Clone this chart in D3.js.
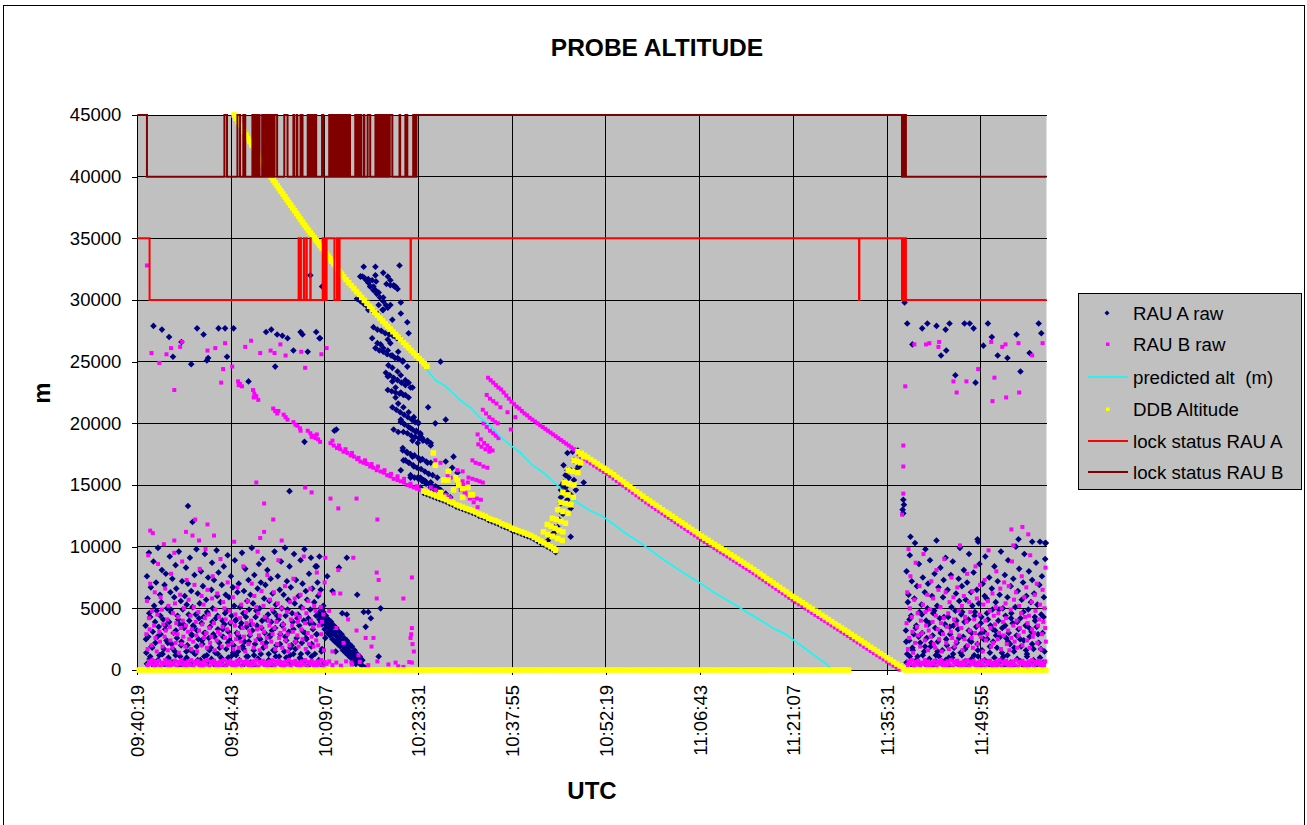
<!DOCTYPE html>
<html>
<head>
<meta charset="utf-8">
<script src="https://cdn.jsdelivr.net/npm/d3@7"></script>
<style>
  html, body { margin: 0; padding: 0; background: #fff; }
  svg { display: block; font-family: Arial, "Liberation Sans", sans-serif; }
</style>
</head>
<body>
<svg id="chart" width="1307" height="825"></svg>
<script>
// Times are minutes after 09:00 UTC, altitudes in metres.
const timeTicks = ["09:40:19","09:54:43","10:09:07","10:23:31","10:37:55","10:52:19","11:06:43","11:21:07","11:35:31","11:49:55"];
const axisEnd = "12:00:00";
const altTicks = [0,5000,10000,15000,20000,25000,30000,35000,40000,45000];

// ---- RAU A raw ----
const rauAHighScatter = [[42.8,27900],[44.1,27600],[45.2,27000],[45.8,25400],[47.1,26600],[48.6,24800],[49.5,27700],[50.5,27200],[51.0,25100],[51.2,25300],[52.8,27700],[53.8,27700],[54.1,25400],[55.1,27700],[60.1,27400],[60.9,27600],[61.8,27200],[62.6,27100],[63.4,26900],[61.5,24600],[64.3,25900],[65.4,27400],[65.7,27200],[66.5,25800],[67.8,27400],[68.3,26900],[70.6,19400],[66.0,18500],[63.7,14500],[57.4,23400],[48.1,13300],[48.8,12000],[66.9,32000],[68.7,31100]];
const rauANoiseEarly = [[41.6,3600],[41.7,1400],[41.8,7600],[41.9,5800],[42.0,2700],[42.1,9500],[42.2,900],[42.3,4300],[42.4,6700],[42.5,1900],[42.7,3100],[42.8,8800],[42.9,5200],[43.0,600],[43.1,2200],[43.2,7100],[43.3,4800],[43.5,9900],[43.6,3500],[43.7,1200],[43.8,6100],[43.9,2900],[44.0,5500],[44.1,8100],[44.3,4100],[44.4,1700],[44.5,6900],[44.6,3300],[44.7,7800],[44.8,2400],[44.9,5000],[45.1,1000],[45.2,3900],[45.3,9200],[45.4,6300],[45.5,4700],[45.6,2100],[45.7,7400],[45.9,3000],[46.0,5900],[46.1,1500],[46.2,8500],[46.3,6600],[46.4,2600],[46.5,4400],[46.7,9600],[46.8,3700],[46.9,1100],[47.0,5600],[47.1,2300],[47.2,7200],[47.3,4900],[47.5,3400],[47.6,6000],[47.7,800],[47.8,8300],[47.9,5300],[48.0,2000],[48.1,7000],[48.3,4000],[48.4,9100],[48.5,1600],[48.6,6400],[48.7,2800],[48.8,5100],[48.9,3600],[49.1,7700],[49.2,1300],[49.3,4500],[49.4,9800],[49.5,3200],[49.6,6200],[49.7,2500],[49.9,5400],[50.0,800],[50.1,8000],[50.2,3800],[50.3,2100],[50.4,6800],[50.5,4300],[50.7,9400],[50.8,3000],[50.9,5700],[51.0,1200],[51.1,4600],[51.2,7500],[51.3,2600],[51.5,3500],[51.6,1800],[51.7,6500],[51.8,8700],[51.9,5000],[52.0,2900],[52.1,7300],[52.3,1400],[52.4,4200],[52.5,9700],[52.6,6000],[52.7,3300],[52.8,7900],[52.9,2200],[53.1,5500],[53.2,1000],[53.3,6900],[53.4,4000],[53.5,2700],[53.6,8400],[53.7,3700],[53.9,6100],[54.0,1700],[54.1,4800],[54.2,9300],[54.3,3100],[54.4,5900],[54.5,2400],[54.7,7600],[54.8,4400],[54.9,1200],[55.0,6700],[55.1,2000],[55.2,5200],[55.3,8900],[55.5,4100],[55.6,3000],[55.7,6300],[55.8,1500],[55.9,7000],[56.0,2600],[56.1,5100],[56.3,3800],[56.4,9500],[56.5,1900],[56.6,4600],[56.7,6400],[56.8,2300],[56.9,8200],[57.1,3500],[57.2,5600],[57.3,1100],[57.4,7300],[57.5,4900],[57.6,2800],[57.7,6100],[57.9,9900],[58.0,3200],[58.1,5400],[58.2,1600],[58.3,7700],[58.4,2100],[58.5,4300],[58.7,3600],[58.8,6600],[58.9,900],[59.0,8600],[59.1,5000],[59.2,2500],[59.3,7100],[59.5,4000],[59.6,9000],[59.7,1800],[59.8,5800],[59.9,3000],[60.0,6900],[60.1,2200],[60.3,8100],[60.4,4500],[60.5,1300],[60.6,5600],[60.7,2700],[60.8,7400],[60.9,3900],[61.1,6200],[61.2,1600],[61.3,4700],[61.4,9600],[61.5,3400],[61.6,5300],[61.7,2000],[61.9,7600],[62.0,4100],[62.1,1100],[62.2,6500],[62.3,2900],[62.4,8800],[62.5,5000],[62.7,3700],[62.8,6100],[62.9,1500],[63.0,9900],[63.1,4400],[63.2,2400],[63.3,7200],[63.5,5700],[63.6,3100],[63.7,8400],[63.8,1200],[63.9,6700],[64.0,2000],[64.1,4600],[64.3,3300],[64.4,9400],[64.5,5400],[64.6,1700],[64.7,7300],[64.8,2600],[64.9,4200],[65.1,6000],[65.2,3600],[65.3,1000],[65.4,8900],[65.5,5100],[65.6,2200],[65.7,7000],[65.9,4000],[66.0,9800],[66.1,3000],[66.2,6400],[66.3,2500],[66.4,5700],[66.5,1400],[66.7,7800],[66.8,3800],[66.9,4900],[67.0,9100],[67.1,2100],[67.2,6600],[67.3,3300],[67.5,5500],[67.6,1300],[67.7,8400],[67.8,4400],[67.9,2900],[68.0,7100],[68.1,6000],[68.3,9200],[68.5,3900],[68.7,1700],[68.9,5200],[69.2,2600],[69.5,7600],[69.9,3700],[70.3,6400],[70.8,1500],[71.3,8300],[71.8,4600],[72.2,2400],[72.5,9100],[75.1,4700],[75.4,3500],[76.2,4200],[77.7,5000],[77.4,1100],[72.5,4500],[67.9,8400],[68.5,6500],[74.1,6100],[75.8,4700]];
const rauANoiseEarlyLow = [[41.65,2500],[42.15,4600],[42.6,1800],[43.05,3900],[43.4,2700],[43.85,4400],[44.2,1300],[44.65,3600],[45.0,2200],[45.45,4900],[45.8,1700],[46.25,3200],[46.6,4100],[47.05,2000],[47.4,3700],[47.85,1500],[48.2,4500],[48.65,2900],[49.0,3500],[49.45,1900],[49.8,4200],[50.25,2400],[50.6,3000],[51.05,4700],[51.4,1600],[51.85,3900],[52.2,2700],[52.65,4400],[53.0,1800],[53.45,3300],[53.8,4600],[54.25,2200],[54.6,3800],[55.05,1400],[55.4,4000],[55.85,2800],[56.2,3500],[56.65,1700],[57.0,4300],[57.45,2300],[57.8,3700],[58.25,1200],[58.6,4800],[59.05,2600],[59.4,3400],[59.85,1900],[60.2,4100],[60.65,2800],[61.0,3200],[61.45,1500],[61.8,4400],[62.25,2100],[62.6,3600],[63.05,2700],[63.4,4900],[63.85,1800],[64.2,3900],[64.65,2300],[65.0,4500],[65.45,1300],[65.8,3100],[66.25,2600],[66.6,4200],[67.05,1900],[67.4,3700],[67.85,2900],[68.2,4600],[68.6,1500]];
const rauAGroundEarly = [[41.8,500],[42.3,1100],[42.9,300],[43.5,800],[44.1,1300],[44.6,400],[45.1,900],[45.7,600],[46.2,1200],[46.9,300],[47.4,700],[47.9,1000],[48.5,500],[49.0,1400],[49.6,800],[50.1,300],[50.6,1100],[51.1,600],[51.7,900],[52.2,400],[52.7,1300],[53.3,700],[53.8,300],[54.3,1000],[54.9,500],[55.5,1200],[56.0,800],[56.6,400],[57.1,1100],[57.7,600],[58.2,300],[58.8,900],[59.3,1300],[59.9,500],[60.5,800],[61.0,400],[61.6,1100],[62.1,700],[62.7,300],[63.2,1000],[63.8,600],[64.3,1300],[64.9,400],[65.4,900],[66.0,700],[66.5,300],[67.1,1100],[67.6,500],[68.2,800],[68.7,400]];
const rauAStreak = [[68.2,4600],[68.4,4300],[68.6,4500],[68.8,4000],[69.0,4200],[69.2,3800],[69.4,3600],[69.6,3900],[69.8,3400],[70.0,3300],[70.2,3500],[70.4,3000],[70.6,2900],[70.8,3100],[71.0,2700],[71.2,2500],[71.4,2700],[71.6,2300],[71.8,2200],[72.0,2400],[72.2,1900],[72.4,1800],[72.6,2000],[72.8,1600],[73.0,1500],[73.2,1300],[73.4,1400],[73.6,1100],[73.8,900],[74.0,1000],[74.2,700],[74.4,600],[74.7,400],[75.0,300],[75.3,200],[75.6,100],[70.0,3200],[72.7,1800],[71.4,2400],
  [68.3,4100],[68.7,3700],[69.1,3300],[69.5,3000],[69.9,2800],[70.3,2500],[70.7,2300],[71.1,2100],[71.5,1900],[71.9,1600],[72.3,1400],[72.7,1200],[73.1,1000],[73.5,700],[73.9,500],
  [68.5,5000],[68.9,4700],[69.3,4400],[69.7,4100],[70.1,3900],[70.5,3600],[70.9,3400],[71.3,3100],[71.7,2900],[72.1,2600],[72.5,2400],[72.9,2100],[73.3,1900],[73.7,1600],[74.1,1300],[74.5,1100],[74.9,800]];
const rauABand = [[75.1,32700],[76.9,32700],[78.1,32200],[80.6,32800],[74.9,31900],[75.5,31600],[75.8,31400],[76.6,31100],[77.4,30600],[78.1,30200],[79.2,31600],[79.7,31200],[80.3,30900],[77.4,29600],[78.0,29200],[79.2,29600],[80.8,28900],[79.5,28400],[81.8,28200],[76.4,26900],[77.2,26500],[77.7,26400],[78.1,26100],[78.8,25900],[79.5,25500],[80.3,25300],[78.8,26800],[79.2,26500],[80.4,25800],[81.1,25100],[81.8,24600],[82.0,27300],[78.9,24700],[79.5,24500],[80.3,24200],[80.8,23900],[81.5,23500],[82.0,23300],[82.6,22900],[78.8,23800],[79.5,23400],[80.0,22900],[80.8,22500],[81.5,22300],[80.0,22100],[80.4,21600],[81.2,21300],[82.0,20900],[82.8,20500],[83.4,20100],[80.8,20300],[81.2,20000],[79.7,19500],[80.4,19300],[82.3,19600],[83.1,19300],[83.8,19100],[82.6,18600],[83.4,18400],[84.1,18800],[84.9,18600],[85.4,18200],[81.1,18000],[81.8,17600],[82.6,17300],[83.8,17000],[84.9,16800],[81.2,17000],[82.0,16800],[82.8,16500],[80.8,16200],[82.3,15600],[83.4,15600],[84.3,15400],[85.4,15200],[86.4,14800],[83.8,14800],[85.4,14800],[85.8,14400],[86.9,25000],[85.0,21300],[86.1,20000],[87.7,20300],[88.9,17300],[87.7,16900],[88.7,16400],[89.5,16000],[68.4,26900],[70.9,19500],[74.6,31900],[75.7,31600],[76.9,32000],[78.8,31900],[80.0,31100],[76.1,31100],[76.9,30800],[74.1,30100],[75.1,29800],[75.8,29200],[78.1,29200],[78.8,29400],[80.8,29800],
  [74.6,31900],[75.2,31800],[75.8,31700],[76.4,31600],[77.0,31500],
  [78.6,31300],[79.2,31200],[79.8,31100],
  [76.1,31100],[76.6,30800],[77.1,30500],[77.6,30200],[78.1,29900],[78.5,29600],[78.8,29400],
  [74.1,30100],[74.6,29900],[75.1,29700],[75.6,29500],[76.1,29300],[76.6,29100],[77.2,28900],
  [76.6,27800],[77.2,27600],[77.8,27500],[78.4,27300],[79.0,27200],[79.6,27100],[80.2,26900],[80.8,26800],
  [76.9,26100],[77.5,25900],[78.1,25800],[78.7,25600],[79.3,25500],[79.9,25300],[80.5,25200],[81.1,25000],
  [78.5,24100],[79.1,23900],[79.7,23700],[80.3,23500],[80.9,23300],[81.5,23100],[82.3,22900],
  [78.8,22700],[79.4,22600],[80.0,22500],[80.6,22400],[81.2,22300],[82.0,22100],
  [79.5,21300],[80.1,21100],[80.7,20900],[81.3,20700],[81.9,20500],[82.5,20300],[83.0,20100],[83.5,20000],
  [80.8,20100],[81.4,19900],[82.0,19700],[82.6,19500],[83.2,19400],[83.8,19200],
  [81.2,19300],[81.8,19200],[82.4,19000],[83.0,18900],[83.6,18800],[84.2,18600],[84.8,18500],[85.4,18400],
  [81.1,17800],[81.7,17700],[82.3,17500],[82.9,17400],[83.5,17200],[84.1,17100],[84.7,16900],[85.4,16800],
  [81.5,17000],[82.1,16800],[82.7,16600],[83.3,16400],[83.9,16300],[84.5,16100],[85.1,15900],[85.7,15800],[86.4,15600],
  [82.3,15800],[82.9,15600],[83.5,15500],[84.1,15300],[84.7,15100],[85.3,15000],[85.9,14800],[86.4,14700],[86.9,14600],
  [85.4,15200],[86.1,14900],[86.9,14600],[87.7,14300],[88.4,14000],[83.8,15600],[84.6,15300],[85.4,15000],[86.3,14800]];
const rauALowTrack = [[84.3,14350],[84.8,14250],[85.3,14150],[85.8,14050],[86.3,13950],[86.8,13850],[87.3,13750],[87.8,13650],[88.3,13500],[88.8,13400],[89.3,13250],[89.8,13150],[90.3,13050],[90.8,12950],[91.3,12850],[91.8,12750],[92.3,12650],[92.8,12500],[93.3,12400],[93.8,12300],[94.3,12150],[94.8,12050],[95.3,11950],[95.8,11850],[96.3,11700],[96.8,11600],[97.3,11500],[97.8,11350],[98.3,11250],[98.8,11150],[99.3,11050],[99.8,10950],[100.3,10850],[100.8,10750],[101.3,10600],[101.8,10450],[102.3,10300],[102.8,10150],[103.3,10000],[103.8,9850],[104.3,9700],[104.6,9550]];
const rauARamp = [[106.4,17600],[107.2,17700],[108.0,17800],[107.4,17000],[108.1,16500],[108.9,15200],[106.4,16200],[105.8,15200],[106.4,14400],[105.4,13500],[105.8,12700],[104.9,11600],[106.9,10800],[104.3,11100],[103.4,10500],[105.8,16600],[106.9,16200],[108.2,16500],[106.1,15800],[107.4,15400],[105.6,15000],[106.4,13800],[105.6,12700],[106.9,13100],[105.1,12200],[104.3,11600],[103.8,10900],[105.4,14600],[106.1,14800],[106.6,15600],[107.7,16200],[105.4,14000],[106.9,14200],[105.9,13500],[107.7,14600]];
const rauAHighLate = [[158.2,29800],[158.6,28100],[160.9,27700],[161.7,28100],[163.1,27900],[164.5,27600],[165.1,28100],[167.4,28100],[168.2,28100],[168.8,27700],[171.0,28100],[171.6,27000],[170.3,26300],[163.8,25500],[164.6,25900],[172.5,25500],[174.0,25300],[175.4,27200],[177.4,25700],[178.8,28100],[179.2,27300],[166.0,23900],[169.1,23300],[176.0,24200],[159.4,26400],[158.0,13800],[158.1,13400],[157.9,13000],[158.0,12700],[175.7,10600],[169.4,10600],[159.1,10800],[177.8,10400],[179.8,10300]];
const rauANoiseLate = [[158.4,3200],[158.5,8000],[158.6,1300],[158.7,5500],[158.8,6100],[158.9,2400],[159.0,9300],[159.2,4400],[159.3,7200],[159.4,1800],[159.6,2900],[159.7,5800],[159.8,10300],[160.0,3600],[160.1,6800],[160.2,1100],[160.4,8600],[160.5,4700],[160.6,2200],[160.8,5300],[160.9,3000],[161.0,7500],[161.2,1500],[161.3,6300],[161.4,9800],[161.5,4000],[161.6,2600],[161.7,5000],[161.8,7000],[162.0,3800],[162.1,8900],[162.2,1900],[162.4,6000],[162.5,2800],[162.6,4600],[162.8,7800],[162.9,3400],[163.0,1200],[163.1,10500],[163.2,5200],[163.3,2300],[163.4,6700],[163.6,4200],[163.7,8300],[163.8,3100],[164.0,1600],[164.1,5900],[164.2,7300],[164.4,3700],[164.5,9100],[164.6,2500],[164.8,6500],[164.9,4300],[165.0,1000],[165.2,2900],[165.3,7700],[165.4,5100],[165.6,8800],[165.7,3600],[165.8,1800],[166.0,4800],[166.1,6200],[166.2,2200],[166.4,3300],[166.5,7400],[166.6,5600],[166.7,9900],[166.8,1400],[166.9,4500],[167.0,6800],[167.2,2700],[167.3,8100],[167.4,3900],[167.6,5700],[167.7,1900],[167.8,7100],[168.0,4100],[168.1,9400],[168.2,2400],[168.4,6300],[168.5,3000],[168.6,5200],[168.8,7900],[168.9,1200],[169.0,4700],[169.2,3500],[169.3,6500],[169.4,2100],[169.5,10400],[169.6,5400],[169.7,8600],[169.8,2900],[170.0,4300],[170.1,1600],[170.2,7000],[170.4,3100],[170.5,6000],[170.6,9200],[170.8,5800],[170.9,2500],[171.0,4100],[171.2,7500],[171.3,1400],[171.4,3600],[171.6,6600],[171.7,4900],[171.8,2300],[172.0,8400],[172.1,3200],[172.2,5500],[172.4,1800],[172.5,7200],[172.6,4000],[172.8,6100],[172.9,2700],[173.0,9600],[173.2,3400],[173.3,5000],[173.4,1100],[173.6,7700],[173.7,4400],[173.8,2600],[174.0,5900],[174.1,8900],[174.2,3000],[174.4,2100],[174.5,6800],[174.6,4600],[174.8,3800],[174.9,7400],[175.0,1500],[175.2,5100],[175.3,10000],[175.4,2800],[175.6,6400],[175.7,3300],[175.8,8200],[176.0,4200],[176.1,1900],[176.2,5700],[176.4,7100],[176.5,2400],[176.6,9400],[176.8,3600],[176.9,6000],[177.0,1300],[177.2,4900],[177.3,8000],[177.4,2700],[177.6,5500],[177.7,3100],[177.8,7300],[178.0,1700],[178.1,6200],[178.2,4300],[178.4,8700],[178.5,3500],[178.6,5300],[178.8,2200],[178.9,6900],[179.0,10400],[179.2,4500],[179.3,7600],[179.4,3000],[179.6,5900],[179.7,1500],[179.8,9000],[179.9,10300],
  [158.45,2300],[158.95,4100],[159.45,1600],[159.9,3400],[160.35,2700],[160.85,4500],[161.35,1900],[161.85,3700],[162.3,2200],[162.75,4800],[163.25,1500],[163.75,3000],[164.25,4300],[164.7,2000],[165.15,3500],[165.65,1300],[166.15,4000],[166.55,2600],[167.05,4700],[167.5,1700],[168.05,3200],[168.45,2300],[168.95,4400],[169.45,1600],[169.9,3800],[170.35,2500],[170.85,4600],[171.3,1900],[171.75,3300],[172.25,2800],[172.7,4900],[173.15,1400],[173.65,3600],[174.1,2300],[174.55,4200],[175.05,1800],[175.5,3900],[175.95,2500],[176.45,4700],[176.85,1600],[177.35,3400],[177.8,2100],[178.25,4000],[178.7,2900],[179.15,1700],[179.55,4300]];
const rauAGroundLate = [[158.5,600],[159.0,1100],[159.5,300],[160.0,800],[160.5,500],[161.0,1200],[161.5,400],[162.0,900],[162.5,300],[163.0,700],[163.5,1100],[164.0,500],[164.5,800],[165.0,300],[165.5,1000],[166.0,600],[166.5,400],[167.0,1200],[167.5,700],[168.0,300],[168.5,900],[169.0,500],[169.5,1100],[170.0,400],[170.5,800],[171.0,600],[171.5,300],[172.0,1000],[172.5,500],[173.0,800],[173.5,300],[174.0,1200],[174.5,600],[175.0,400],[175.5,900],[176.0,700],[176.5,300],[177.0,1100],[177.5,500],[178.0,800],[178.5,400],[179.0,1000],[179.5,600]];

// ---- RAU B raw ----
const rauBHighScatter = [[41.8,32800],[42.5,25700],[43.7,24900],[44.8,25600],[45.5,26100],[46.9,26200],[47.2,26600],[51.1,25900],[52.3,26100],[53.8,26500],[53.2,23300],[54.9,24600],[53.5,24400],[46.0,22700],[56.9,26200],[57.8,26700],[59.2,25700],[60.8,25900],[61.4,25700],[62.3,26400],[63.1,25500],[65.5,25800],[66.1,24500],[68.6,25600],[69.4,26100],[58.6,15200],[59.8,13500],[61.2,12200],[66.1,14800],[67.1,14400],[70.0,13900],[71.2,13100],[74.0,13900],[77.2,12200],[42.3,11300],[49.2,12200],[47.8,11200],[46.0,10500],[49.8,10500],[51.1,11800],[52.1,10900],[59.8,11200],[62.5,10500],[59.2,10700]];
const rauBTrackEarly = [[55.8,23400],[56.1,23200],[56.4,23000],[55.9,23100],[58.1,22700],[58.3,22400],[58.6,22200],[58.9,21900],[58.2,22100],[61.2,21200],[61.5,21000],[61.8,20800],[62.0,21000],[62.8,20700],[63.1,20500],[63.4,20300],[64.3,20100],[64.6,19900],[64.9,19800],[65.3,19600],[65.4,19400],[66.5,19400],[66.9,19200],[67.3,19000],[67.7,18800],[68.1,18700],[68.4,18500],[67.1,18900],[67.9,19100],
  [70.0,18400],[70.5,18200],[71.0,18000],[71.5,17900],[72.0,17700],[72.6,17600],[73.1,17400],[73.6,17300],[74.1,17100],[74.6,16900],[75.1,16800],[75.6,16700],[76.1,16500],[76.6,16400],[77.1,16200],[77.7,16100],[78.2,16000],[78.7,15800],[79.2,15700],[79.7,15500],[80.3,15400],[80.8,15300],[81.3,15200],[81.8,15000],[82.3,14900],[82.8,14800],[83.3,14700],[83.8,14600],[84.3,14500],[84.9,14400],[85.4,14300],[85.9,14200],
  [70.3,18600],[71.3,18200],[72.3,17900],[73.3,17600],[74.3,17200],[75.3,17000],[76.3,16700],[77.3,16500],[78.3,16200],[79.3,15900],[80.3,15700],[81.3,15500],[82.3,15100],[83.3,14900]];
const rauBStriations = [[94.0,22300],[94.5,22000],[95.0,21800],[95.5,21600],[96.1,21300],[93.4,21100],[93.9,20800],[94.4,20500],[94.9,20300],[95.3,20100],[95.7,20000],[93.5,20000],[94.0,19700],[94.5,19400],[95.0,19200],[95.4,19000],[95.8,18800],[92.6,19100],[93.1,18700],[93.6,18400],[94.1,18200],[94.5,18000],[94.9,17800],[92.7,18300],[93.2,18100],[93.8,17900],[94.4,17700],[91.8,17000],[92.3,16800],[92.9,16700],[93.5,16500],[94.1,16400],[91.2,15600],[91.8,15500],[92.4,15400],[92.9,15300],[93.4,15200],[90.0,14600],[90.6,14400],[91.2,14200],[91.9,14000],[92.5,13900],[93.1,13800],[89.5,16200],[90.4,15000],[89.5,15200],[90.1,14800],[90.8,14300],[91.4,13900],[92.0,13600],[92.6,13200],[88.0,15800],[88.8,15600],[89.5,15500],[90.3,15300],[91.1,15200],[85.4,14800],[86.1,14600],[86.9,14400],[87.7,14200],[88.4,14000],[86.1,17000],[86.9,16800],[90.3,16100],[98.4,20500],[97.7,19500],[97.2,20900]];
const rauBDescent = [[94.2,23700],[94.6,23500],[95.0,23300],[95.4,23100],[95.8,22900],[96.2,22750],[96.6,22500],[97.0,22250],[97.4,22000],[97.8,21750],[98.2,21550],[98.6,21350],[99.0,21200],[99.4,21000],[99.8,20800],[100.2,20650],[100.6,20450],[101.0,20300],[101.4,20150],[101.8,20000],[102.2,19850],[102.6,19700],[103.0,19550],[103.4,19400],[103.8,19250],[104.2,19100],[104.6,18950],[105.0,18800],[105.4,18650],[105.8,18500],[106.2,18350],[106.6,18200],[107.0,18050],[107.4,17900],[107.8,17750],[108.1,17500],
  [108.5,17280],[109.0,17100],[109.5,16930],[110.0,16760],[110.5,16580],[111.0,16410],[111.5,16240],[112.0,16060],[112.5,15890],[113.0,15720],[113.5,15530],[114.0,15330],[114.5,15140],[115.0,14950],[115.5,14750],[116.0,14560],[116.5,14370],[117.0,14170],[117.5,13980],[118.0,13790],[118.5,13590],[119.0,13410],[119.5,13230],[120.0,13050],[120.5,12870],[121.0,12690],[121.5,12510],[122.0,12340],[122.5,12160],[123.0,11980],[123.5,11800],[124.0,11630],[124.5,11450],[125.0,11270],[125.5,11090],[126.0,10920],[126.5,10740],[127.0,10560],[127.5,10390],[128.0,10220],[128.5,10050],[129.0,9880],[129.5,9710],[130.0,9540],[130.5,9380],[131.0,9210],[131.5,9040],[132.0,8870],[132.5,8700],[133.0,8530],[133.5,8360],[134.0,8200],[134.5,8030],[135.0,7850],[135.5,7670],[136.0,7490],[136.5,7310],[137.0,7120],[137.5,6940],[138.0,6760],[138.5,6580],[139.0,6400],[139.5,6220],[140.0,6040],[140.5,5850],[141.0,5670],[141.5,5500],[142.0,5330],[142.5,5160],[143.0,4990],[143.5,4810],[144.0,4640],[144.5,4470],[145.0,4300],[145.5,4130],[146.0,3960],[146.5,3790],[147.0,3620],[147.5,3450],[148.0,3280],[148.5,3110],[149.0,2940],[149.5,2770],[150.0,2590],[150.5,2410],[151.0,2240],[151.5,2070],[152.0,1890],[152.5,1720],[153.0,1540],[153.5,1370],[154.0,1200],[154.5,1030],[155.0,860],[155.5,690],[156.0,520],[156.5,350],[157.0,180],[157.4,30]];
const rauBNoiseEarly = [[41.7,2900],[41.8,5600],[41.9,1700],[42.0,9300],[42.1,4200],[42.2,3300],[42.3,7000],[42.5,2000],[42.6,4800],[42.7,11100],[42.9,3600],[43.0,6300],[43.1,2600],[43.3,1500],[43.4,4500],[43.5,8600],[43.7,3100],[43.8,2300],[43.9,5900],[44.1,4900],[44.2,1900],[44.3,3700],[44.4,10200],[44.5,2700],[44.6,6600],[44.7,3200],[44.9,4100],[45.0,1600],[45.1,5200],[45.3,3500],[45.4,2400],[45.5,7800],[45.7,1800],[45.8,4600],[45.9,3000],[46.0,9500],[46.1,5400],[46.2,2200],[46.3,3800],[46.5,2900],[46.6,4300],[46.7,1400],[46.9,6100],[47.0,3400],[47.1,2100],[47.2,8800],[47.3,4000],[47.4,2700],[47.5,5000],[47.7,1900],[47.8,3600],[47.9,7300],[48.1,3100],[48.2,5700],[48.3,2500],[48.5,4400],[48.6,1700],[48.7,3300],[48.8,10900],[48.9,2300],[49.0,5100],[49.1,6900],[49.3,3900],[49.4,2800],[49.5,1500],[49.7,4700],[49.8,3200],[49.9,8200],[50.1,2000],[50.2,6000],[50.3,3700],[50.5,5300],[50.6,2600],[50.7,4200],[50.8,9800],[50.9,3000],[51.0,1800],[51.1,6500],[51.3,4500],[51.4,3400],[51.5,2200],[51.7,2700],[51.8,5800],[51.9,7600],[52.1,3800],[52.2,1600],[52.3,4900],[52.5,2400],[52.6,6200],[52.7,3100],[52.9,4300],[53.0,2900],[53.1,9000],[53.3,1900],[53.4,3500],[53.5,5500],[53.7,5000],[53.8,2600],[53.9,4100],[54.1,3300],[54.2,7100],[54.3,2000],[54.5,4800],[54.6,2800],[54.7,3900],[54.9,2200],[55.0,5900],[55.1,1700],[55.2,10400],[55.3,3600],[55.4,4500],[55.5,2500],[55.7,6700],[55.8,3000],[55.9,1800],[56.1,4200],[56.2,2300],[56.3,5300],[56.5,3400],[56.6,8400],[56.7,2700],[56.9,1500],[57.0,4700],[57.1,3800],[57.3,5600],[57.4,2100],[57.5,3200],[57.7,2900],[57.8,4000],[57.9,7000],[58.1,3700],[58.2,1800],[58.3,6000],[58.5,2400],[58.6,5100],[58.7,3300],[58.8,9600],[58.9,4600],[59.0,2800],[59.1,1600],[59.3,3500],[59.4,6400],[59.5,2200],[59.7,5200],[59.8,3100],[59.9,4300],[60.1,1900],[60.2,2600],[60.3,7700],[60.5,4000],[60.6,3600],[60.7,5700],[60.9,2300],[61.0,4900],[61.1,2900],[61.3,6300],[61.4,3400],[61.5,1700],[61.7,3900],[61.8,2100],[61.9,5400],[62.0,8900],[62.1,2600],[62.2,4400],[62.3,3000],[62.5,5000],[62.6,1800],[62.7,3700],[62.9,3300],[63.0,6800],[63.1,2400],[63.3,4700],[63.4,2900],[63.5,1500],[63.7,2000],[63.8,5500],[63.9,4100],[64.1,3600],[64.2,3100],[64.3,7400],[64.5,5800],[64.6,2300],[64.7,4500],[64.9,2800],[65.0,3900],[65.1,1900],[65.3,4300],[65.4,6100],[65.5,3300],[65.7,2500],[65.8,5000],[65.9,9200],[66.1,3800],[66.2,1700],[66.3,4600],[66.5,3000],[66.6,5600],[66.7,2100],[66.9,6600],[67.0,4000],[67.1,2700],[67.3,3500],[67.4,1900],[67.5,5200],[67.7,4800],[67.8,2400],[67.9,7900],[68.1,2000],[68.2,3600],[68.3,6200],[68.5,5100],[68.6,2900],[68.7,3900],[68.9,4500],[69.0,1600],[69.1,7100],
  [69.2,9100],[71.2,8100],[73.5,9100],[71.5,6200],[70.5,6200],[77.1,7900],[77.4,7300],[77.1,5800],[81.2,5800],[82.5,7500],[82.5,3400],[82.8,1500],[82.3,2600],[74.0,3200],[75.4,2600],[76.6,2600],[76.3,1900],[74.3,1200],[73.2,600],[82.5,600],[81.2,250],[80.0,600],[82.6,2100],[82.4,2900],[69.8,4800],[70.9,3400],[72.0,2200],[72.7,4100],[70.3,1500]];
const rauBGroundEarly = [[41.9,400],[42.1,700],[42.4,500],[42.6,800],[42.9,350],[43.1,650],[43.4,450],[43.6,750],[43.9,300],[44.1,600],[44.4,500],[44.6,800],[44.9,400],[45.1,700],[45.4,350],[45.6,600],[45.9,450],[46.1,750],[46.4,300],[46.6,650],[46.9,500],[47.1,800],[47.4,400],[47.6,600],[47.9,350],[48.1,700],[48.4,450],[48.6,800],[48.9,300],[49.1,650],[49.4,500],[49.6,750],[49.9,400],[50.1,600],[50.4,350],[50.6,700],[50.9,450],[51.1,800],[51.4,300],[51.6,650],[51.9,500],[52.1,750],[52.4,400],[52.6,600],[52.9,350],[53.1,700],[53.4,450],[53.6,800],[53.9,300],[54.1,650],[54.4,500],[54.6,750],[54.9,400],[55.1,600],[55.4,350],[55.6,700],[55.9,450],[56.1,800],[56.4,300],[56.6,650],[56.9,500],[57.1,750],[57.4,400],[57.6,600],[57.9,350],[58.1,700],[58.4,450],[58.6,800],[58.9,300],[59.1,650],[59.4,500],[59.6,750],[59.9,400],[60.1,600],[60.4,350],[60.6,700],[60.9,450],[61.1,800],[61.4,300],[61.6,650],[61.9,500],[62.1,750],[62.4,400],[62.6,600],[62.9,350],[63.1,700],[63.4,450],[63.6,800],[63.9,300],[64.1,650],[64.4,500],[64.6,750],[64.9,400],[65.1,600],[65.4,350],[65.6,700],[65.9,450],[66.1,800],[66.4,300],[66.6,650],[66.9,500],[67.1,750],[67.4,400],[67.6,600],[67.9,350],[68.1,700],[68.4,450],[68.6,800],[68.9,300],[69.1,650],[69.4,500],[69.8,700],[70.3,400],[70.9,600],[71.6,350],[72.4,700],[73.3,450],[74.5,650],[75.8,400],[77.2,700],[78.9,450],[80.4,300],[82.1,650]];
const rauBHighLate = [[159.7,26400],[161.5,26400],[162.0,26500],[163.5,26600],[163.4,26200],[171.5,26600],[173.2,26200],[173.7,26400],[175.7,26500],[179.4,26500],[177.8,25500],[169.5,24400],[165.7,23400],[167.7,23400],[172.0,23700],[166.2,22500],[171.7,21800],[173.8,22100],[175.8,22500],[158.3,23000],[158.0,18200],[158.0,16500],[158.0,14300],[157.8,12600],[174.6,11400],[176.3,11600],[177.2,11000],[174.9,10100]];
const rauBNoiseLate = [[158.5,3800],[158.6,6300],[158.7,1700],[158.8,9800],[158.9,2600],[159.0,5000],[159.1,7600],[159.3,4300],[159.4,3100],[159.5,1400],[159.7,5700],[159.8,2200],[159.9,8700],[160.1,3500],[160.2,4600],[160.3,2800],[160.5,6800],[160.6,1900],[160.7,4000],[160.9,3000],[161.0,5300],[161.1,9400],[161.3,2400],[161.4,4700],[161.5,3600],[161.7,6100],[161.8,1600],[161.9,3200],[162.1,4900],[162.2,2700],[162.3,7200],[162.5,3900],[162.6,5800],[162.7,2100],[162.9,1800],[163.0,4400],[163.1,8100],[163.3,3300],[163.4,6500],[163.5,2500],[163.7,5100],[163.8,3800],[163.9,1500],[164.1,2900],[164.2,4200],[164.3,9000],[164.5,6300],[164.6,2200],[164.7,3500],[164.9,4600],[165.0,1700],[165.1,5500],[165.3,3100],[165.4,7500],[165.5,2600],[165.7,5900],[165.8,4100],[165.9,1900],[166.1,2300],[166.2,3700],[166.3,6700],[166.5,4800],[166.6,2800],[166.7,10100],[166.9,3400],[167.0,5200],[167.1,1600],[167.3,6000],[167.4,2500],[167.5,4300],[167.7,3900],[167.8,7800],[167.9,2000],[168.1,5500],[168.2,3200],[168.3,4700],[168.5,2600],[168.6,6400],[168.7,1800],[168.9,4100],[169.0,3000],[169.1,8400],[169.3,5800],[169.4,2100],[169.5,3600],[169.7,4500],[169.8,6900],[169.9,2700],[170.1,3300],[170.2,1500],[170.3,5300],[170.5,7300],[170.6,4000],[170.7,2400],[170.9,2900],[171.0,5600],[171.1,9700],[171.3,4800],[171.4,3400],[171.5,1900],[171.7,6200],[171.8,2200],[171.9,4400],[172.1,3700],[172.2,5100],[172.3,8000],[172.5,2500],[172.6,4600],[172.7,3000],[172.9,6600],[173.0,1700],[173.1,5000],[173.3,3900],[173.4,2800],[173.5,7100],[173.7,5400],[173.8,4200],[173.9,2100],[174.1,3200],[174.2,6800],[174.3,1600],[174.5,4900],[174.6,2600],[174.7,8800],[174.9,3600],[175.0,5700],[175.1,2300],[175.3,6300],[175.4,4000],[175.5,1800],[175.7,2800],[175.8,5200],[175.9,3400],[176.1,4600],[176.2,7600],[176.3,2000],[176.5,3100],[176.6,5900],[176.7,4300],[176.9,6700],[177.0,2400],[177.1,3800],[177.3,4400],[177.4,1800],[177.5,9300],[177.7,5500],[177.8,3300],[177.9,2700],[178.1,3000],[178.2,6100],[178.3,4800],[178.5,7000],[178.6,2200],[178.7,3600],[178.9,4100],[179.0,5300],[179.1,1700],[179.3,2900],[179.4,6500],[179.5,3900],[179.7,5000],[179.8,3400],[179.85,8300],[179.9,2300]];
const rauBGroundLate = [[158.6,400],[158.8,700],[159.1,500],[159.3,800],[159.6,350],[159.8,650],[160.1,450],[160.3,750],[160.6,300],[160.8,600],[161.1,500],[161.3,800],[161.6,400],[161.8,700],[162.1,350],[162.3,600],[162.6,450],[162.8,750],[163.1,300],[163.3,650],[163.6,500],[163.8,800],[164.1,400],[164.3,600],[164.6,350],[164.8,700],[165.1,450],[165.3,800],[165.6,300],[165.8,650],[166.1,500],[166.3,750],[166.6,400],[166.8,600],[167.1,350],[167.3,700],[167.6,450],[167.8,800],[168.1,300],[168.3,650],[168.6,500],[168.8,750],[169.1,400],[169.3,600],[169.6,350],[169.8,700],[170.1,450],[170.3,800],[170.6,300],[170.8,650],[171.1,500],[171.3,750],[171.6,400],[171.8,600],[172.1,350],[172.3,700],[172.6,450],[172.8,800],[173.1,300],[173.3,650],[173.6,500],[173.8,750],[174.1,400],[174.3,600],[174.6,350],[174.8,700],[175.1,450],[175.3,800],[175.6,300],[175.8,650],[176.1,500],[176.3,750],[176.6,400],[176.8,600],[177.1,350],[177.3,700],[177.6,450],[177.8,800],[178.1,300],[178.3,650],[178.6,500],[178.8,750],[179.1,400],[179.3,600],[179.6,350],[179.8,700]];

// ---- predicted altitude (m) ----
const predictedAlt = [[84.6,24500],[86.1,23500],[87.7,23000],[88.9,22400],[89.7,22000],[90.6,21600],[91.5,21300],[93.1,20400],[94.6,19800],[96.1,18900],[97.7,18200],[99.2,17600],[100.8,16700],[102.7,16000],[104.6,15100],[106.3,14200],[107.9,13600],[109.9,12900],[111.7,12500],[113.5,11800],[115.3,11100],[117.3,10400],[119.2,9700],[121.3,8900],[123.3,8200],[125.1,7600],[126.9,7000],[128.9,6300],[130.8,5700],[132.7,5100],[134.6,4500],[136.5,3900],[138.3,3300],[139.9,2900],[141.2,2400],[142.8,1800],[144.3,1200],[145.9,600],[147.2,0]];

// ---- DDB Altitude ----
const ddbUpper = [[55.2,45000],[55.5,44730],[55.8,44460],[56.1,44190],[56.4,43920],[56.7,43650],[57.0,43380],[57.3,43110],[57.6,42840],[57.9,42570],[58.2,42300],[58.5,42030],[58.8,41760],[59.1,41490],[59.4,41220],[59.7,40950],[60.0,40680],[60.3,40420],[60.6,40190],[60.9,39960],[61.2,39730],[61.5,39510],[61.8,39280],[62.1,39050],[62.4,38820],[62.7,38600],[63.0,38370],[63.3,38140],[63.6,37910],[63.9,37690],[64.2,37460],[64.5,37230],[64.8,37000],[65.1,36780],[65.4,36550],[65.7,36320],[66.0,36090],[66.3,35880],[66.6,35670],[66.9,35460],[67.2,35250],[67.5,35040],[67.8,34830],[68.1,34620],[68.4,34410],[68.7,34200],[69.0,33990],[69.3,33780],[69.6,33570],[69.9,33360],[70.2,33150],[70.5,32940],[70.8,32730],[71.1,32520],[71.4,32310],[71.7,32100],[72.0,31890],[72.4,31650],[72.8,31410],[73.2,31170],[73.6,30930],[74.0,30690],[74.4,30450],[74.8,30210],[75.2,29970],[75.6,29730],[76.0,29490],[76.4,29250],[76.8,29010],[77.2,28770],[77.6,28530],[78.0,28290],[78.4,28070],[78.8,27860],[79.2,27640],[79.6,27420],[80.0,27210],[80.4,26990],[80.8,26780],[81.2,26560],[81.6,26340],[82.0,26130],[82.4,25910],[82.8,25700],[83.2,25480],[83.6,25260],[84.0,25050],[84.4,24830],[84.8,24620]];
const ddbLowerTrack = [[84.3,14500],[84.8,14400],[85.3,14300],[85.8,14200],[86.3,14100],[86.8,14000],[87.3,13900],[87.8,13800],[88.3,13650],[88.8,13550],[89.3,13400],[89.8,13300],[90.3,13200],[90.8,13100],[91.3,13000],[91.8,12900],[92.3,12800],[92.8,12650],[93.3,12550],[93.8,12450],[94.3,12300],[94.8,12200],[95.3,12100],[95.8,12000],[96.3,11850],[96.8,11750],[97.3,11650],[97.8,11500],[98.3,11400],[98.8,11300],[99.3,11200],[99.8,11100],[100.3,11000],[100.8,10900],[101.3,10750],[101.8,10600],[102.3,10450],[102.8,10300],[103.3,10150],[103.8,10000],[104.3,9850],[104.6,9700],
  [85.8,17600],[86.1,16600],[88.1,16100],[88.0,15400],[89.2,15600],[89.7,15000],[91.1,14800],[91.8,14200],[90.3,14000],[86.9,14400],[87.4,14000],[89.5,15400],[90.3,14700],[91.5,14200],[87.4,15400],[88.9,14600]];
const ddbRamp = [[102.7,11200],[103.4,11000],[104.1,10850],[104.9,10650],[105.6,10500],[103.3,11800],[103.9,11650],[104.5,11500],[105.1,11350],[105.7,11200],[104.1,12300],[104.7,12200],[105.4,12050],[106.1,11900],[104.9,13000],[105.7,12850],[106.5,12700],[105.4,13600],[106.1,13500],[106.9,13400],[105.7,14400],[106.5,14200],[107.3,14000],[105.9,15200],[106.6,15100],[107.4,15000],[106.5,16200],[107.2,16100],[108.0,16000],[107.4,17000],[107.9,16900],[108.4,16800],[108.0,17700],[108.5,17500],[108.9,17300]];
const ddbDescent = [[108.5,17580],[109.0,17400],[109.5,17230],[110.0,17060],[110.5,16880],[111.0,16710],[111.5,16540],[112.0,16360],[112.5,16190],[113.0,16020],[113.5,15830],[114.0,15630],[114.5,15440],[115.0,15250],[115.5,15050],[116.0,14860],[116.5,14670],[117.0,14470],[117.5,14280],[118.0,14090],[118.5,13890],[119.0,13710],[119.5,13530],[120.0,13350],[120.5,13170],[121.0,12990],[121.5,12810],[122.0,12640],[122.5,12460],[123.0,12280],[123.5,12100],[124.0,11930],[124.5,11750],[125.0,11570],[125.5,11390],[126.0,11220],[126.5,11040],[127.0,10860],[127.5,10690],[128.0,10520],[128.5,10350],[129.0,10180],[129.5,10010],[130.0,9840],[130.5,9680],[131.0,9510],[131.5,9340],[132.0,9170],[132.5,9000],[133.0,8830],[133.5,8660],[134.0,8500],[134.5,8330],[135.0,8150],[135.5,7970],[136.0,7790],[136.5,7610],[137.0,7420],[137.5,7240],[138.0,7060],[138.5,6880],[139.0,6700],[139.5,6520],[140.0,6340],[140.5,6150],[141.0,5970],[141.5,5800],[142.0,5630],[142.5,5460],[143.0,5290],[143.5,5110],[144.0,4940],[144.5,4770],[145.0,4600],[145.5,4430],[146.0,4260],[146.5,4090],[147.0,3920],[147.5,3750],[148.0,3580],[148.5,3410],[149.0,3240],[149.5,3070],[150.0,2890],[150.5,2710],[151.0,2540],[151.5,2370],[152.0,2190],[152.5,2020],[153.0,1840],[153.5,1670],[154.0,1500],[154.5,1330],[155.0,1160],[155.5,990],[156.0,820],[156.5,650],[157.0,480],[157.5,320],[158.0,150],[158.4,0]];
const ddbGroundTimes = [40.6,41.2,41.8,42.4,43.0,43.6,44.2,44.8,45.4,46.0,46.6,47.2,47.8,48.4,49.0,49.6,50.2,50.8,51.4,52.0,52.6,53.2,53.8,54.4,55.0,55.6,56.2,56.8,57.4,58.0,58.6,59.2,59.8,60.4,61.0,61.6,62.2,62.8,63.4,64.0,64.6,65.2,65.8,66.4,67.0,67.6,68.2,68.8,69.4,70.0,70.6,71.2,71.8,72.4,73.0,73.6,74.2,74.8,75.4,76.0,76.6,77.2,77.8,78.4,79.0,79.6,80.2,80.8,81.4,82.0,82.6,83.2,83.8,84.4,85.0,85.6,86.2,86.8,87.4,88.0,88.6,89.2,89.8,90.4,91.0,91.6,92.2,92.8,93.4,94.0,94.6,95.2,95.8,96.4,97.0,97.6,98.2,98.8,99.4,100.0,100.6,101.2,101.8,102.4,103.0,103.6,104.2,104.8,105.4,106.0,106.6,107.2,107.8,108.4,109.0,109.6,110.2,110.8,111.4,112.0,112.6,113.2,113.8,114.4,115.0,115.6,116.2,116.8,117.4,118.0,118.6,119.2,119.8,120.4,121.0,121.6,122.2,122.8,123.4,124.0,124.6,125.2,125.8,126.4,127.0,127.6,128.2,128.8,129.4,130.0,130.6,131.2,131.8,132.4,133.0,133.6,134.2,134.8,135.4,136.0,136.6,137.2,137.8,138.4,139.0,139.6,140.2,140.8,141.4,142.0,142.6,143.2,143.8,144.4,145.0,145.6,146.2,146.8,147.4,148.0,148.6,149.2,149.6,
  158.4,159.0,159.6,160.2,160.8,161.4,162.0,162.6,163.2,163.8,164.4,165.0,165.6,166.2,166.8,167.4,168.0,168.6,169.2,169.8,170.4,171.0,171.6,172.2,172.8,173.4,174.0,174.6,175.2,175.8,176.4,177.0,177.6,178.2,178.8,179.4,179.9];

// ---- lock status: times at which the state flips ----
const lockALevels = [35000, 30000];   // locked, unlocked
const lockAFlips = [42.2, 65.1,65.15, 65.4,65.45, 65.9,65.95, 66.3,66.35, 66.9,66.95, 68.8,68.85, 69.1,69.15, 69.4, 70.6, 71.0, 71.1, 71.4, 82.3,82.35, 151.2,151.25, 157.8, 157.9, 158.1, 158.2, 158.4];
const lockBLevels = [45000, 40000];
const lockBFlips = [41.8, 53.7,54.1, 55.7,56.1, 56.6,56.9, 58.0,58.2,58.5,58.6,58.9,59.1,59.5,59.6, 59.7,59.9,60.2,60.3, 60.6,60.8,61.1,61.2, 61.4,61.8, 62.9,63.4, 64.3,64.4,64.8,64.9, 65.4,65.7, 66.5,66.8,67.1,67.4,67.7,67.8, 68.7,68.9, 69.8,70.1,70.4,70.6,70.9,71.1,71.4,71.5,71.8,72.1,72.4,72.7,72.9,73.0, 73.8,74.1,74.4,74.7,75.1,75.2, 75.7,76.1, 76.9,77.2,77.5,77.8,78.1,78.4,78.7,78.8, 79.1,79.5, 80.6,80.7, 81.5,81.8, 82.7,82.9,83.2, 157.8,157.9,158.1,158.2,158.4];

const legendLabels = ["RAU A raw","RAU B raw","predicted alt  (m)","DDB Altitude","lock status RAU A","lock status RAU B"];

// ------------------------------------------------------------------
const toMin = s => { const [h, m, sec] = s.split(":").map(Number); return (h - 9) * 60 + m + sec / 60; };
const tickMinutes = timeTicks.map(toMin);

const svg = d3.select("#chart");
const plot = { left: 137.3, right: 1046.5, top: 115, bottom: 670 };

const x = d3.scaleLinear().domain([tickMinutes[0], toMin(axisEnd)]).range([plot.left, plot.right]);
const y = d3.scaleLinear().domain([0, 45000]).range([plot.bottom, plot.top]);

// frame
svg.append("rect").attr("x", 0).attr("y", 0).attr("width", 1307).attr("height", 825).attr("fill", "#fff");
svg.append("rect").attr("x", 3.5).attr("y", 5.5).attr("width", 1301).attr("height", 840)
  .attr("fill", "none").attr("stroke", "#000").attr("stroke-width", 1);

// plot background
svg.append("rect").attr("x", plot.left).attr("y", plot.top)
  .attr("width", plot.right - plot.left).attr("height", plot.bottom - plot.top).attr("fill", "#c0c0c0");

// gridlines
const grid = svg.append("g").attr("stroke", "#000").attr("stroke-width", 1).attr("shape-rendering", "crispEdges");
grid.selectAll(".h").data(altTicks.filter(d => d > 0)).join("line")
  .attr("x1", plot.left).attr("x2", plot.right).attr("y1", d => y(d)).attr("y2", d => y(d));
grid.selectAll(".v").data(tickMinutes.slice(1)).join("line")
  .attr("x1", d => x(d)).attr("x2", d => x(d)).attr("y1", plot.top).attr("y2", plot.bottom);

// axes
const yAxis = d3.axisLeft(y).tickValues(altTicks).tickSize(5).tickSizeOuter(0).tickPadding(11).tickFormat(d3.format("d"));
const gy = svg.append("g").attr("transform", `translate(${plot.left},0)`).call(yAxis);
gy.selectAll("text").style("font-size", "18.5px").attr("fill", "#000");

const xAxis = d3.axisBottom(x).tickValues(tickMinutes).tickSize(5).tickSizeOuter(0).tickFormat((d, i) => timeTicks[i]);
const gx = svg.append("g").attr("transform", `translate(0,${plot.bottom})`).call(xAxis);
gx.selectAll("text").style("font-size", "18.5px").attr("fill", "#000")
  .attr("transform", "rotate(-90)").attr("text-anchor", "end")
  .attr("x", -15).attr("y", 0).attr("dy", "0.35em");
[gx, gy].forEach(g => { g.selectAll("path,line").attr("stroke", "#000").attr("shape-rendering", "crispEdges"); });

// markers
const diamond = "M0,-3.3L3.3,0L0,3.3L-3.3,0Z";
function drawDiamonds(data, color) {
  svg.append("g").selectAll("path").data(data).join("path")
    .attr("d", diamond).attr("fill", color)
    .attr("transform", d => `translate(${x(d[0])},${y(d[1])})`);
}
function drawSquares(data, color, size) {
  svg.append("g").selectAll("rect").data(data).join("rect")
    .attr("x", d => x(d[0]) - size / 2).attr("y", d => y(d[1]) - size / 2)
    .attr("width", size).attr("height", size).attr("fill", color);
}
function stepPoints(levels, flips) {
  let state = 0;
  const pts = [[x.domain()[0], levels[0]]];
  flips.forEach(t => { pts.push([t, levels[state]]); state = 1 - state; pts.push([t, levels[state]]); });
  pts.push([x.domain()[1], levels[state]]);
  return pts;
}
const line = d3.line().x(d => x(d[0])).y(d => y(d[1]));

// RAU A raw
const navy = "#000080";
drawDiamonds([].concat(rauANoiseEarly, rauANoiseEarlyLow, rauAGroundEarly, rauAHighScatter, rauAStreak, rauABand,
  rauALowTrack, rauARamp, rauAHighLate, rauANoiseLate, rauAGroundLate), navy);

// RAU B raw
const magenta = "#ff00ff";
drawSquares([].concat(rauBNoiseEarly, rauBGroundEarly, rauBHighScatter, rauBTrackEarly, rauBStriations, rauBDescent,
  rauBHighLate, rauBNoiseLate, rauBGroundLate), magenta, 4);

// predicted alt
svg.append("path").datum(predictedAlt).attr("d", line).attr("fill", "none")
  .attr("stroke", "#00ffff").attr("stroke-width", 1.5);

// DDB altitude
const ddbGround = ddbGroundTimes.map(t => [t, 0]);
drawSquares([].concat(ddbGround, ddbUpper, ddbLowerTrack, ddbRamp, ddbDescent), "#ffff00", 5.5);

// lock status
svg.append("path").datum(stepPoints(lockALevels, lockAFlips)).attr("d", line).attr("fill", "none")
  .attr("stroke", "#ff0000").attr("stroke-width", 2);
svg.append("path").datum(stepPoints(lockBLevels, lockBFlips)).attr("d", line).attr("fill", "none")
  .attr("stroke", "#800000").attr("stroke-width", 2);

// titles
svg.append("text").attr("x", 657).attr("y", 56).attr("text-anchor", "middle")
  .style("font-size", "24.5px").style("font-weight", "bold").text("PROBE ALTITUDE");
svg.append("text").attr("x", 592).attr("y", 799).attr("text-anchor", "middle")
  .style("font-size", "24px").style("font-weight", "bold").text("UTC");
svg.append("text").attr("transform", "translate(50,393) rotate(-90)").attr("text-anchor", "middle")
  .style("font-size", "24px").style("font-weight", "bold").text("m");

// legend
const lg = svg.append("g");
lg.append("rect").attr("x", 1078.5).attr("y", 293.5).attr("width", 223).attr("height", 196)
  .attr("fill", "#c0c0c0").attr("stroke", "#000");
const rowY = [313, 344, 377, 409, 441, 472];
const legendStyles = [
  { kind: "diamond", color: navy }, { kind: "square", color: magenta },
  { kind: "line", color: "#00ffff" }, { kind: "square", color: "#ffff00" },
  { kind: "line", color: "#ff0000" }, { kind: "line", color: "#800000" }
];
legendLabels.forEach((label, i) => {
  const st = legendStyles[i], cy = rowY[i];
  if (st.kind === "line") {
    lg.append("line").attr("x1", 1088).attr("x2", 1128).attr("y1", cy).attr("y2", cy)
      .attr("stroke", st.color).attr("stroke-width", i === 2 ? 1.5 : 2);
  } else if (st.kind === "diamond") {
    lg.append("path").attr("d", "M0,-2.5L2.5,0L0,2.5L-2.5,0Z").attr("fill", st.color)
      .attr("transform", `translate(1107,${cy})`);
  } else {
    lg.append("rect").attr("x", 1106).attr("y", cy - 1.5).attr("width", 3.5).attr("height", 3.5).attr("fill", st.color);
  }
  lg.append("text").attr("x", 1133).attr("y", cy).attr("dy", "0.35em")
    .style("font-size", "18.7px").style("white-space", "pre").attr("fill", "#000").text(label);
});
</script>
</body>
</html>
